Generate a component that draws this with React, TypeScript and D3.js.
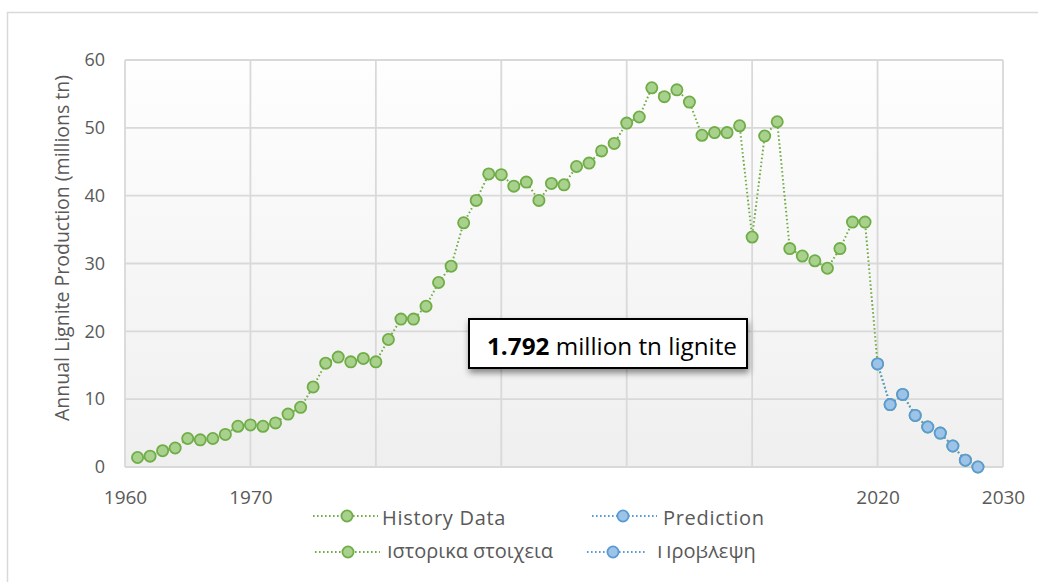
import React, { useEffect, useRef } from "react";
import * as d3 from "d3";

// Annual lignite production, millions tn
const historyStart = 1961;
const historyValues = [
  1.4, 1.6, 2.4, 2.8, 4.2, 4.0, 4.2, 4.8, 6.0, 6.2,
  6.0, 6.5, 7.8, 8.8, 11.8, 15.3, 16.2, 15.5, 16.0, 15.5,
  18.8, 21.8, 21.8, 23.7, 27.2, 29.6, 36.0, 39.3, 43.2, 43.1,
  41.4, 42.0, 39.3, 41.8, 41.6, 44.3, 44.8, 46.6, 47.7, 50.7,
  51.6, 55.9, 54.6, 55.6, 53.8, 48.9, 49.3, 49.3, 50.3, 33.9,
  48.8, 50.9, 32.2, 31.1, 30.4, 29.3, 32.2, 36.1, 36.1, 15.2,
];
const predictionStart = 2020;
const predictionValues = [15.2, 9.2, 10.7, 7.6, 5.9, 5.0, 3.1, 1.0, 0.0];

const xGrid = [1960, 1970, 1980, 1990, 2000, 2010, 2020, 2030];
// the middle year labels are hidden behind the legend in the original
const xTickLabels = [1960, 1970, 2020, 2030];
const yTicks = [0, 10, 20, 30, 40, 50, 60];

const legendLabels = ["History Data", "Prediction", "Ιστορικα στοιχεια", "Προβλεψη"];
const annotationBold = "1.792";
const annotationRest = " million tn lignite";

const FONT = "'Open Sans', sans-serif";
const GREEN = "#70ad47";
const GREEN_FILL = "#a9d18e";
const BLUE = "#5b9bd5";
const BLUE_FILL = "#9dc3e6";

export default function App() {
  const svgRef = useRef<SVGSVGElement>(null);

  useEffect(() => {
    const svg = d3.select(svgRef.current);
    svg.selectAll("*").remove();
    const width = 1038;
    const height = 582;
    const left = 125, right = 1003, top = 60, bottom = 467;

    const x = d3.scaleLinear().domain([1960, 2030]).range([left, right]);
    const y = d3.scaleLinear().domain([0, 60]).range([bottom, top]);

    const defs = svg.append("defs");
    const grad = defs.append("linearGradient").attr("id", "bg").attr("x1", 0).attr("y1", 0).attr("x2", 0).attr("y2", 1);
    grad.append("stop").attr("offset", "0%").attr("stop-color", "#fefefe");
    grad.append("stop").attr("offset", "100%").attr("stop-color", "#efefef");
    const shadow = defs.append("filter").attr("id", "shadow").attr("x", "-10%").attr("y", "-30%").attr("width", "130%").attr("height", "180%");
    shadow.append("feDropShadow").attr("dx", 1).attr("dy", 4).attr("stdDeviation", 3).attr("flood-color", "#000").attr("flood-opacity", 0.45);
    // second legend row is cut off at the top in the original
    defs.append("clipPath").attr("id", "row2clip")
      .append("rect").attr("x", 0).attr("y", 546).attr("width", width).attr("height", 40);

    svg.append("rect").attr("width", width).attr("height", height).attr("fill", "#fff");
    // outer chart frame
    svg.append("rect").attr("x", 7.5).attr("y", 12.5).attr("width", 1100).attr("height", 700)
      .attr("fill", "none").attr("stroke", "#d9d9d9").attr("stroke-width", 1.5);

    // plot area
    svg.append("rect").attr("x", left).attr("y", top).attr("width", right - left).attr("height", bottom - top)
      .attr("fill", "url(#bg)");

    // gridlines
    const grid = svg.append("g").attr("stroke", "#d9d9d9").attr("stroke-width", 1.8);
    grid.selectAll("line.h").data(yTicks).enter().append("line")
      .attr("x1", left).attr("x2", right).attr("y1", (d) => y(d)).attr("y2", (d) => y(d));
    grid.selectAll("line.v").data(xGrid).enter().append("line")
      .attr("y1", top).attr("y2", bottom).attr("x1", (d) => x(d)).attr("x2", (d) => x(d));

    // axes (labels only, axis lines come from the grid)
    const yAxis = svg.append("g").attr("transform", `translate(${left - 12},0)`)
      .call(d3.axisLeft(y).tickValues(yTicks).tickSize(0).tickPadding(8));
    yAxis.select(".domain").remove();
    yAxis.selectAll("text").style("font-family", FONT).style("font-size", "18px").attr("fill", "#595959");

    const xAxis = svg.append("g").attr("transform", `translate(0,${bottom + 19})`)
      .call(d3.axisBottom(x).tickValues(xTickLabels).tickFormat(d3.format("d")).tickSize(0).tickPadding(4));
    xAxis.select(".domain").remove();
    xAxis.selectAll("text").style("font-family", FONT).style("font-size", "19px").attr("fill", "#595959");

    svg.append("text")
      .attr("transform", `translate(69,248) rotate(-90)`)
      .attr("text-anchor", "middle")
      .style("font-family", FONT).style("font-size", "19.5px").attr("fill", "#595959")
      .text("Annual Lignite Production (millions tn)");

    const history = historyValues
      .concat(predictionValues.slice(1))
      .map((v, i) => ({ year: historyStart + i, v }));
    const prediction = predictionValues.map((v, i) => ({ year: predictionStart + i, v }));

    const line = d3.line<{ year: number; v: number }>().x((d) => x(d.year)).y((d) => y(d.v));

    const drawSeries = (data, stroke, fill) => {
      const g = svg.append("g");
      g.append("path").attr("d", line(data)).attr("fill", "none")
        .attr("stroke", stroke).attr("stroke-width", 2).attr("stroke-dasharray", "1.6 2.4");
      g.selectAll("circle").data(data).enter().append("circle")
        .attr("cx", (d) => x(d.year)).attr("cy", (d) => y(d.v)).attr("r", 5.6)
        .attr("fill", fill).attr("stroke", stroke).attr("stroke-width", 1.8);
    };
    drawSeries(history, GREEN, GREEN_FILL);
    drawSeries(prediction, BLUE, BLUE_FILL);

    // annotation box
    const ann = svg.append("g");
    ann.append("rect").attr("x", 469).attr("y", 319).attr("width", 278).attr("height", 49)
      .attr("fill", "#fff").attr("stroke", "#000").attr("stroke-width", 2).attr("filter", "url(#shadow)");
    const at = ann.append("text").attr("x", 487).attr("y", 355)
      .style("font-family", FONT).style("font-size", "23.5px").attr("fill", "#000")
      .attr("textLength", 250).attr("lengthAdjust", "spacingAndGlyphs");
    at.append("tspan").attr("font-weight", "bold").text(annotationBold);
    at.append("tspan").text(annotationRest);

    // legend
    const lg = svg.append("g");
    lg.append("rect").attr("x", 300).attr("y", 487).attr("width", 475).attr("height", 95).attr("fill", "#fff");
    const items = [
      { label: legendLabels[0], x1: 313, x2: 378, mx: 347, tx: 382, y: 516, ty: 525, fs: 20, ls: 0.7, stroke: GREEN, fill: GREEN_FILL, clip: false },
      { label: legendLabels[1], x1: 592, x2: 657, mx: 623, tx: 663, y: 516, ty: 525, fs: 20, ls: 0.7, stroke: BLUE, fill: BLUE_FILL, clip: false },
      { label: legendLabels[2], x1: 315, x2: 380, mx: 348, tx: 387, y: 552, ty: 558, fs: 20, ls: 0, stroke: GREEN, fill: GREEN_FILL, clip: true },
      { label: legendLabels[3], x1: 587, x2: 647, mx: 613, tx: 657, y: 552, ty: 558, fs: 20, ls: 0, stroke: BLUE, fill: BLUE_FILL, clip: true },
    ];
    items.forEach((it) => {
      lg.append("line").attr("x1", it.x1).attr("x2", it.x2).attr("y1", it.y).attr("y2", it.y)
        .attr("stroke", it.stroke).attr("stroke-width", 2).attr("stroke-dasharray", "1.6 2.4");
      lg.append("circle").attr("cx", it.mx).attr("cy", it.y).attr("r", 5.6)
        .attr("fill", it.fill).attr("stroke", it.stroke).attr("stroke-width", 1.8);
      const t = lg.append("text").attr("x", it.tx).attr("y", it.ty)
        .style("font-family", FONT).style("font-size", `${it.fs}px`).style("letter-spacing", `${it.ls}px`)
        .attr("fill", "#595959")
        .text(it.label);
      if (it.clip) t.attr("clip-path", "url(#row2clip)");
    });
  }, []);

  return (
    <div style={{ position: "absolute", left: 0, top: 0 }}>
      <svg ref={svgRef} width={1038} height={582} style={{ display: "block" }}></svg>
    </div>
  );
}
